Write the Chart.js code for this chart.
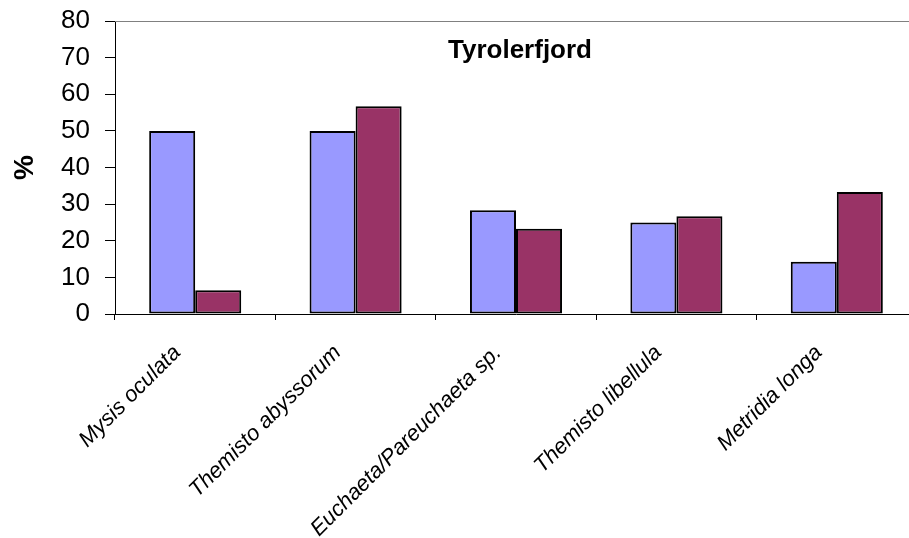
<!DOCTYPE html>
<html>
<head>
<meta charset="utf-8">
<script src="https://cdn.jsdelivr.net/npm/chart.js@4/dist/chart.umd.min.js"></script>
<style>
  html, body { margin: 0; padding: 0; background: #fff; overflow: hidden; }
  #wrap { width: 920px; height: 538px; }
</style>
</head>
<body>
<div id="wrap"><canvas id="c" width="920" height="538"></canvas></div>
<script>
// ---- data ----
const categories = ["Mysis oculata", "Themisto abyssorum", "Euchaeta/Pareuchaeta sp.", "Themisto libellula", "Metridia longa"];
const seriesA = [50, 50, 28.3, 25, 14.3];
const seriesB = [6.5, 56.7, 23.3, 26.7, 33.3];
const yTicks = [0, 10, 20, 30, 40, 50, 60, 70, 80];
const chartTitle = "Tyrolerfjord";
const yTitle = "%";

const FONT = "'Liberation Sans', Arial, sans-serif";

const framePlugin = {
  id: 'frame',
  afterDraw(chart) {
    const {ctx, chartArea: a} = chart;
    ctx.save();
    ctx.strokeStyle = '#808080';
    ctx.lineWidth = 1;
    ctx.beginPath();
    ctx.moveTo(a.left, a.top + 0.5);
    ctx.lineTo(a.right, a.top + 0.5);
    ctx.lineTo(a.right, a.bottom);
    ctx.stroke();
    ctx.fillStyle = '#000';
    ctx.font = "bold 26px " + FONT;
    ctx.textAlign = 'center';
    ctx.textBaseline = 'alphabetic';
    ctx.fillText(chartTitle, (a.left + a.right) / 2 + 4, a.top + 37);
    ctx.restore();
  }
};

new Chart(document.getElementById('c'), {
  type: 'bar',
  data: {
    labels: categories,
    datasets: [
      { data: seriesA, backgroundColor: '#9999FF', borderColor: '#000', borderWidth: 2, borderSkipped: false },
      { data: seriesB, backgroundColor: '#993366', borderColor: '#000', borderWidth: 2, borderSkipped: false }
    ]
  },
  options: {
    responsive: false,
    animation: false,
    devicePixelRatio: 1,
    layout: { padding: { top: 21, right: 3, left: 0, bottom: 0 } },
    datasets: { bar: { categoryPercentage: 0.574, barPercentage: 1.0 } },
    plugins: { legend: { display: false }, tooltip: { enabled: false } },
    scales: {
      x: {
        offset: true,
        grid: { display: true, drawOnChartArea: false, drawTicks: true, tickLength: 6, color: '#000', offset: true },
        border: { display: true, color: '#000', width: 1 },
        ticks: {
          color: '#000',
          font: { family: FONT, size: 22, style: 'italic' },
          minRotation: 45, maxRotation: 45,
          padding: 20,
          labelOffset: -18,
          autoSkip: false
        },
        afterFit(scale) { scale.height = 224; scale.paddingTop = 0; scale.paddingBottom = 0; }
      },
      y: {
        min: 0, max: 80,
        afterBuildTicks(scale) { scale.ticks = yTicks.map(v => ({ value: v })); },
        grid: { display: true, drawOnChartArea: false, drawTicks: true, tickLength: 10, color: '#000' },
        border: { display: true, color: '#000', width: 1 },
        ticks: { color: '#000', font: { family: FONT, size: 26 }, padding: 15 },
        title: { display: true, text: yTitle, color: '#000', font: { family: FONT, size: 28, weight: 'bold' }, padding: { top: 8, bottom: 0 } },
        afterFit(scale) { scale.width = 115; scale.paddingTop = 0; scale.paddingBottom = 0; }
      }
    }
  },
  plugins: [framePlugin]
});
</script>
</body>
</html>
